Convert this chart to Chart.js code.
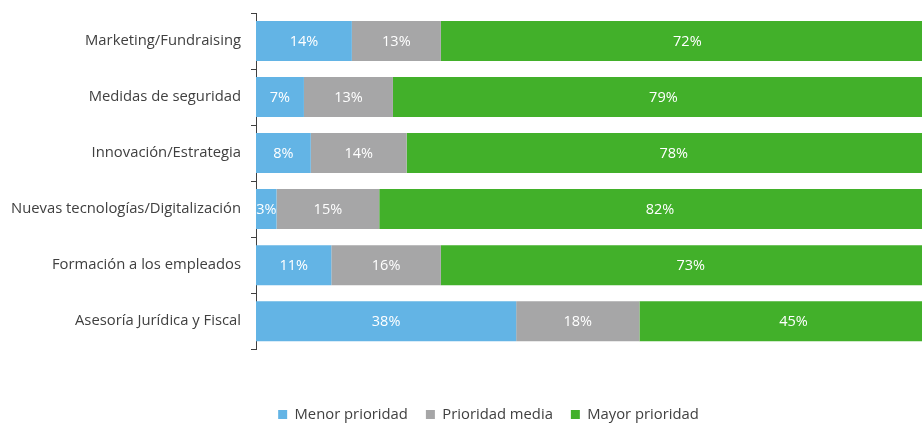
<!DOCTYPE html>
<html>
<head>
<meta charset="utf-8">
<script src="https://cdn.jsdelivr.net/npm/chart.js@4"></script>
<style>
  html, body { margin: 0; padding: 0; background: #fff; overflow: hidden; }
  #wrap { width: 978px; height: 423px; }
</style>
</head>
<body>
<div id="wrap"><canvas id="priorityChart"></canvas></div>
<script>
const categories = [
  "Marketing/Fundraising",
  "Medidas de seguridad",
  "Innovación/Estrategia",
  "Nuevas tecnologías/Digitalización",
  "Formación a los empleados",
  "Asesoría Jurídica y Fiscal",
];
const seriesNames = ["Menor prioridad", "Prioridad media", "Mayor prioridad"];
const menorValues = [14, 7, 8, 3, 11, 38];
const mediaValues = [13, 13, 14, 15, 16, 18];
const mayorValues = [72, 79, 78, 82, 73, 45];

const colors = ["#63b4e5", "#a6a6a7", "#42b02a"];

Chart.defaults.font.family = "'Open Sans', sans-serif";
Chart.defaults.font.size = 14.8;
Chart.defaults.color = "#404040";

// white % labels centred in each segment
const segmentLabels = {
  id: "segmentLabels",
  afterDatasetsDraw(chart) {
    const { ctx, chartArea } = chart;
    ctx.save();
    ctx.beginPath();
    ctx.rect(chartArea.left, chartArea.top, chartArea.right - chartArea.left, chartArea.bottom - chartArea.top);
    ctx.clip();
    ctx.fillStyle = "#ffffff";
    ctx.font = "14.5px 'Open Sans', sans-serif";
    ctx.textAlign = "center";
    ctx.textBaseline = "middle";
    chart.data.datasets.forEach((ds, i) => {
      chart.getDatasetMeta(i).data.forEach((bar, j) => {
        ctx.fillText(ds.data[j] + "%", (bar.x + bar.base) / 2, bar.y + 1);
      });
    });
    ctx.restore();
  },
};

new Chart(document.getElementById("priorityChart"), {
  type: "bar",
  data: {
    labels: categories,
    datasets: [menorValues, mediaValues, mayorValues].map((vals, i) => ({
      label: seriesNames[i],
      data: vals,
      backgroundColor: colors[i],
      borderWidth: 0,
      barPercentage: 0.714,
      categoryPercentage: 1,
    })),
  },
  options: {
    indexAxis: "y",
    responsive: true,
    maintainAspectRatio: false,
    animation: false,
    layout: { padding: { top: 13, bottom: -9, right: 1 } },
    scales: {
      x: {
        stacked: true,
        display: true,
        min: 0,
        max: 105.3,
        // keep the axis invisible, only reserve the gap above the legend
        afterFit: (scale) => {
          scale.height = 40;
          scale.paddingLeft = 0;
          scale.paddingRight = 0;
        },
        border: { display: false },
        grid: { display: false },
        ticks: { display: false },
      },
      y: {
        stacked: true,
        offset: true,
        afterFit: (scale) => {
          scale.width = 256;
          scale.paddingTop = 0;
          scale.paddingBottom = 0;
        },
        border: { display: true, color: "#404040", width: 1 },
        grid: {
          offset: true,
          drawOnChartArea: false,
          drawTicks: true,
          tickLength: 5,
          color: "#404040",
        },
        ticks: { padding: 10, color: "#404040" },
      },
    },
    plugins: {
      legend: {
        position: "bottom",
        labels: {
          boxWidth: 9,
          boxHeight: 9,
          padding: 18,
          color: "#404040",
        },
      },
      tooltip: { enabled: false },
    },
  },
  plugins: [segmentLabels],
});
</script>
</body>
</html>
